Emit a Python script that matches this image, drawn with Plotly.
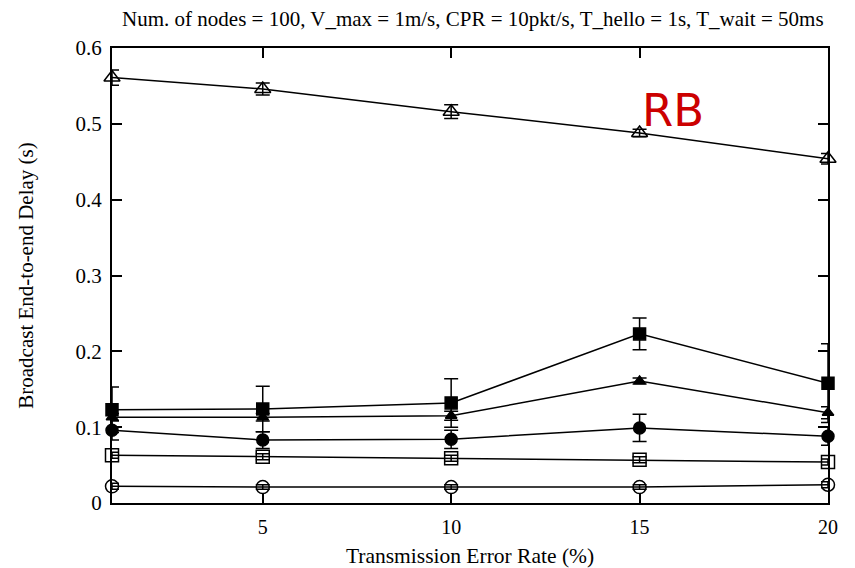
import plotly.graph_objects as go

x_vals = [1, 5, 10, 15, 20]

rb_delay = [0.561, 0.546, 0.516, 0.488, 0.454]
rb_err = [0.010, 0.008, 0.009, 0.005, 0.007]

fsq_delay = [0.123, 0.124, 0.132, 0.223, 0.158]
fsq_err = [0.030, 0.030, 0.032, 0.021, 0.052]

ftri_delay = [0.113, 0.113, 0.115, 0.161, 0.119]
ftri_err = [0.005, 0.005, 0.006, 0.004, 0.008]

fcir_delay = [0.096, 0.083, 0.084, 0.099, 0.088]
fcir_err = [0.013, 0.011, 0.012, 0.018, 0.012]

osq_delay = [0.063, 0.061, 0.059, 0.057, 0.054]
osq_err = [0.004, 0.004, 0.004, 0.004, 0.004]

ocir_delay = [0.022, 0.021, 0.021, 0.021, 0.024]
ocir_err = [0.004, 0.003, 0.003, 0.003, 0.004]

y_ticks = [0, 0.1, 0.2, 0.3, 0.4, 0.5, 0.6]
y_tick_text = ["0", "0.1", "0.2", "0.3", "0.4", "0.5", "0.6"]
x_ticks = [5, 10, 15, 20]

series = [
    (rb_delay, rb_err, "triangle-up-open", 14),
    (fsq_delay, fsq_err, "square", 12),
    (ftri_delay, ftri_err, "triangle-up", 10),
    (fcir_delay, fcir_err, "circle", 12),
    (osq_delay, osq_err, "square-open", 13),
    (ocir_delay, ocir_err, "circle-open", 13),
]

fig = go.Figure()
for ys, errs, sym, sz in series:
    fig.add_trace(go.Scatter(
        x=x_vals, y=ys, mode="lines+markers",
        line=dict(color="black", width=1.5),
        marker=dict(symbol=sym, size=sz, color="black",
                    line=dict(color="black", width=1.5)),
        error_y=dict(type="data", array=errs, visible=True,
                     color="black", thickness=1.5, width=7),
        showlegend=False, cliponaxis=False,
    ))

fig.add_annotation(x=15.9, y=0.517, text="RB", showarrow=False,
                   font=dict(family="DejaVu Sans", size=45, color="#cc0000"))

serif = "Liberation Serif, Times New Roman, serif"
fig.update_layout(
    width=855, height=568,
    margin=dict(l=112, r=27, t=48, b=65),
    paper_bgcolor="white", plot_bgcolor="white",
    font=dict(family=serif, color="black", size=20),
    title=dict(text="Num. of nodes = 100, V_max = 1m/s, CPR = 10pkt/s, T_hello = 1s, T_wait = 50ms",
               x=0.553, xanchor="center", y=0.968, yanchor="middle",
               font=dict(family=serif, size=21, color="black")),
)
fig.update_xaxes(
    range=[1, 20], tickvals=x_ticks, ticktext=[str(v) for v in x_ticks],
    ticks="inside", ticklen=10, tickwidth=2, tickcolor="black",
    showline=True, linecolor="black", linewidth=2, mirror="ticks",
    showgrid=False, zeroline=False, automargin=False, ticklabelstandoff=5,
    title=dict(text="Transmission Error Rate (%)", font=dict(family=serif, size=21.5), standoff=14),
    tickfont=dict(family=serif, size=20),
)
fig.update_yaxes(
    range=[0, 0.6], tickvals=y_ticks, ticktext=y_tick_text,
    ticks="inside", ticklen=10, tickwidth=2, tickcolor="black",
    showline=True, linecolor="black", linewidth=2, mirror="ticks",
    showgrid=False, zeroline=False, automargin=False, ticklabelstandoff=4,
    title=dict(text="Broadcast End-to-end Delay (s)", font=dict(family=serif, size=21), standoff=36),
    tickfont=dict(family=serif, size=21),
)

fig.write_html("out.html")
